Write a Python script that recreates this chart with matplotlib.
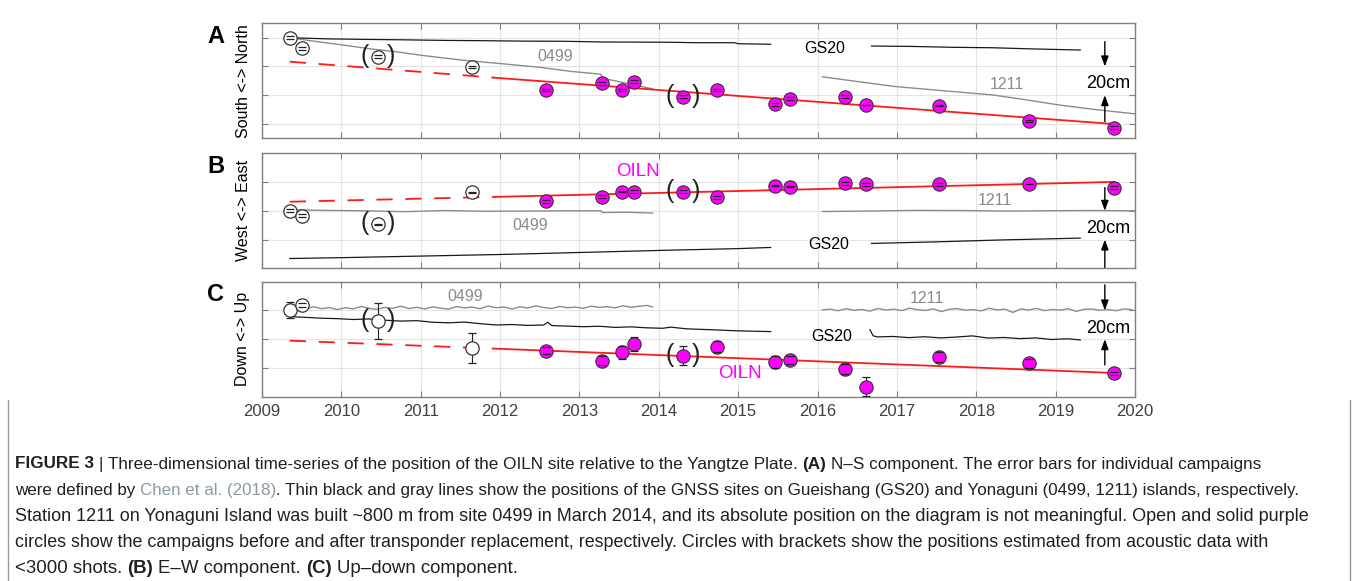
import matplotlib
matplotlib.use("Agg")
import matplotlib.pyplot as plt
from matplotlib import font_manager

plt.rcParams['font.family'] = ['Liberation Sans', 'DejaVu Sans']

W, H = 1354, 581

# ---- data (cm, one grid step = 20 cm) ----
year_ticks = list(range(2009, 2021))
open_t = [2009.35, 2009.50, 2010.46, 2011.64]
solid_t = [2012.58, 2013.28, 2013.54, 2013.69, 2014.30, 2014.73, 2015.47,
           2015.65, 2016.35, 2016.61, 2017.53, 2018.66, 2019.74]
bracket_t = [2010.46, 2014.30]

# A: N-S
a_open_v = [0.0, -7.4, -13.2, -20.4]
a_open_e = [1.0, 1.0, 1.0, 1.0]
a_solid_v = [-36.4, -31.8, -36.4, -30.6, -41.0, -36.4, -46.4, -42.6, -41.0, -46.8, -47.2, -58.0, -62.6]
a_solid_e = [1.0, 1.0, 1.0, 1.0, 1.0, 1.0, 1.0, 1.0, 1.0, 0.3, 0.3, 1.0, 1.0]
a_trend_t = [2009.35, 2011.92, 2019.74]
a_trend_v = [-16.7, -27.8, -60.1]
a_gs20_t1 = [2009.35, 2009.8, 2010.3, 2010.8, 2011.3, 2011.8, 2012.3, 2012.8, 2013.3, 2013.8, 2014.13, 2014.5, 2014.95, 2015.0, 2015.41]
a_gs20_v1 = [0.0, -0.8, -1.2, -1.5, -1.9, -2.1, -2.4, -2.5, -3.0, -3.1, -3.2, -3.5, -3.5, -4.2, -4.6]
a_gs20_t2 = [2016.68, 2017.2, 2017.7, 2018.2, 2018.7, 2019.31]
a_gs20_v2 = [-5.8, -6.1, -6.7, -7.0, -7.8, -8.6]
a_0499_t = [2009.35, 2009.7, 2010.0, 2010.4, 2010.69, 2011.0, 2011.5, 2012.0, 2012.5, 2012.9, 2013.27, 2013.29, 2013.6, 2013.92]
a_0499_v = [0.0, -2.8, -5.0, -8.0, -9.8, -12.2, -15.5, -18.0, -20.6, -23.5, -25.4, -28.2, -31.8, -35.6]
a_1211_t = [2016.06, 2016.5, 2016.98, 2017.5, 2018.2, 2018.6, 2019.04, 2019.5, 2020.0]
a_1211_v = [-27.2, -30.5, -34.0, -36.5, -39.8, -43.0, -46.8, -50.0, -53.0]

# B: E-W
b_open_v = [0.0, -3.5, -9.3, 12.8]
b_open_e = [1.0, 1.0, 0.3, 0.3]
b_solid_v = [6.5, 9.7, 13.4, 13.4, 13.4, 9.3, 17.4, 16.7, 19.0, 18.6, 18.6, 18.6, 16.2]
b_solid_e = [1.0, 1.0, 0.3, 1.0, 1.0, 1.0, 0.3, 0.3, 1.0, 1.0, 1.0, 0.3, 1.0]
b_trend_t = [2009.35, 2011.95, 2019.74]
b_trend_v = [6.3, 9.7, 20.1]
b_gs20_t1 = [2009.35, 2010.0, 2011.0, 2012.0, 2013.0, 2014.13, 2015.0, 2015.41]
b_gs20_v1 = [-33.2, -32.6, -31.5, -30.4, -29.0, -27.4, -26.3, -25.5]
b_gs20_t2 = [2016.68, 2017.5, 2018.3, 2019.31]
b_gs20_v2 = [-22.7, -21.6, -20.3, -19.0]
b_0499_t = [2009.35, 2009.8, 2010.3, 2010.8, 2011.3, 2011.8, 2012.3, 2012.8, 2013.27, 2013.29, 2013.6, 2013.92]
b_0499_v = [0.7, 0.3, 0.0, -0.6, 0.2, -0.3, -0.2, 0.0, 0.0, -1.2, -1.0, -1.6]
b_1211_t = [2016.06, 2016.6, 2017.2, 2017.8, 2018.4, 2019.0, 2019.5, 2020.0]
b_1211_v = [-0.5, -0.2, 0.3, 0.2, -0.2, 0.1, 0.2, 0.0]

# C: up-down
c_open_v = [20.4, 23.9, 12.7, -6.3]
c_open_e = [5.8, 1.5, 12.5, 10.4]
c_solid_v = [-8.1, -14.9, -9.0, -3.5, -11.4, -5.1, -16.0, -14.4, -20.9, -33.0, -12.1, -16.7, -23.7]
c_solid_e = [2.5, 3.0, 4.5, 5.0, 6.4, 4.0, 4.0, 3.0, 3.5, 6.7, 3.5, 3.0, 1.0]
c_trend_t = [2009.35, 2012.0, 2019.74]
c_trend_v = [-1.0, -6.7, -23.5]
c_gs20_t1 = [2009.35, 2009.55, 2009.75, 2009.95, 2010.15, 2010.35, 2010.55, 2010.75, 2010.95,
             2011.15, 2011.35, 2011.55, 2011.75, 2011.95, 2012.15, 2012.35, 2012.55, 2012.6,
             2012.65, 2012.85, 2013.05, 2013.25, 2013.45, 2013.65, 2013.85, 2014.05, 2014.15,
             2014.35, 2014.55, 2014.75, 2014.95, 2015.15, 2015.41]
c_gs20_v1 = [15.7, 15.2, 14.6, 14.3, 13.7, 14.1, 13.2, 12.6, 12.9, 11.8, 11.4, 11.9, 10.8, 9.9,
             10.2, 9.6, 9.9, 11.8, 9.5, 9.1, 8.7, 9.0, 8.2, 8.6, 7.9, 7.6, 8.4, 7.2, 6.8, 6.4,
             5.9, 5.6, 5.3]
c_gs20_t2 = [2016.66, 2016.70, 2016.75, 2016.95, 2017.15, 2017.35, 2017.55, 2017.75,
             2017.95, 2018.15, 2018.35, 2018.55, 2018.75, 2018.95, 2019.15, 2019.31]
c_gs20_v2 = [6.6, 2.4, 1.6, 1.9, 1.1, 1.7, 0.9, 1.5, 2.3, 0.8, 1.2, 0.4, 0.9, -0.2, 0.3, -0.5]
c_0499_t = [2009.35, 2009.45, 2009.55, 2009.65, 2009.75, 2009.85, 2009.95, 2010.05, 2010.15,
            2010.25, 2010.35, 2010.45, 2010.55, 2010.65, 2010.75, 2010.85, 2010.95, 2011.05,
            2011.15, 2011.25, 2011.35, 2011.45, 2011.55, 2011.65, 2011.75, 2011.85, 2011.95,
            2012.05, 2012.15, 2012.25, 2012.35, 2012.45, 2012.55, 2012.65, 2012.75, 2012.85,
            2012.95, 2013.05, 2013.15, 2013.25, 2013.35, 2013.45, 2013.55, 2013.65, 2013.75,
            2013.85, 2013.92]
c_0499_v = [20.4, 21.8, 20.9, 22.6, 21.2, 22.0, 20.6, 21.9, 21.1, 22.8, 21.4, 20.8, 22.1, 21.5,
            23.0, 21.3, 22.2, 21.0, 22.5, 21.6, 20.9, 22.7, 21.8, 22.3, 21.2, 23.1, 21.9, 22.4,
            21.0, 22.6, 21.7, 23.2, 22.0, 21.4, 22.8, 21.9, 22.3, 21.5, 23.0, 22.1, 22.6, 21.8,
            23.3, 22.2, 22.9, 23.5, 22.4]
c_1211_t = [2016.06, 2016.16, 2016.26, 2016.36, 2016.46, 2016.56, 2016.66, 2016.76, 2016.86,
            2016.96, 2017.06, 2017.16, 2017.26, 2017.36, 2017.46, 2017.56, 2017.66, 2017.76,
            2017.86, 2017.96, 2018.06, 2018.16, 2018.26, 2018.36, 2018.46, 2018.56, 2018.66,
            2018.76, 2018.86, 2018.96, 2019.06, 2019.16, 2019.26, 2019.36, 2019.46, 2019.56,
            2019.66, 2019.76, 2019.86, 2019.96]
c_1211_v = [20.4, 20.9, 19.8, 21.2, 20.1, 20.7, 19.5, 21.4, 20.3, 20.9, 19.9, 21.6, 20.5, 20.0,
            21.1, 19.2, 20.8, 21.3, 20.2, 20.6, 19.7, 21.5, 20.4, 20.9, 18.6, 21.0, 20.3, 21.4,
            19.9, 20.7, 20.2, 21.2, 19.4, 20.8, 21.0, 20.1, 20.6, 19.8, 21.1, 20.6]

caption = [
    [("FIGURE 3", 'b'), (" |", 'n'), (" Three-dimensional time-series of the position of the OILN site relative to the Yangtze Plate.", 'n'),
     (" (A)", 'b'), (" N\u2013S component. The error bars for individual campaigns", 'n')],
    [("were defined by", 'n'), (" Chen et al. (2018)", 'l'),
     (". Thin black and gray lines show the positions of the GNSS sites on Gueishang (GS20) and Yonaguni (0499, 1211) islands, respectively.", 'n')],
    [("Station 1211 on Yonaguni Island was built ~800 m from site 0499 in March 2014, and its absolute position on the diagram is not meaningful. Open and solid purple", 'n')],
    [("circles show the campaigns before and after transponder replacement, respectively. Circles with brackets show the positions estimated from acoustic data with", 'n')],
    [("<3000 shots.", 'n'), (" (B)", 'b'), (" E\u2013W component.", 'n'), (" (C)", 'b'), (" Up\u2013down component.", 'n')],
]
caption_right = [1265, 1305, 1310, 1275, 522]

# ---- figure ----
fig = plt.figure(figsize=(W / 100, H / 100), dpi=100, facecolor='white')


def box(top, bottom, left=262, right=1135):
    return [left / W, 1 - bottom / H, (right - left) / W, (bottom - top) / H]


panels = [
    dict(box=box(23.3, 138.3), ylim=(-70, 10), yticks=[-60, -40, -20, 0],
         open_v=a_open_v, open_e=a_open_e, solid_v=a_solid_v, solid_e=a_solid_e,
         trend=(a_trend_t, a_trend_v),
         black=[(a_gs20_t1, a_gs20_v1), (a_gs20_t2, a_gs20_v2)],
         gray=[(a_0499_t, a_0499_v), (a_1211_t, a_1211_v)],
         labels=[("0499", 2012.69, -13.2, '#8a8a8a'), ("GS20", 2016.09, -7.4, 'k'), ("1211", 2018.38, -32.9, '#8a8a8a')],
         oiln=None, arrows=(-2.8, -20, -58.4, -40), cm_y=-32.2,
         letter="A", ylab="South <-> North", xlab=False),
    dict(box=box(153.3, 268.3), ylim=(-40, 40), yticks=[-20, 0, 20],
         open_v=b_open_v, open_e=b_open_e, solid_v=b_solid_v, solid_e=b_solid_e,
         trend=(b_trend_t, b_trend_v),
         black=[(b_gs20_t1, b_gs20_v1), (b_gs20_t2, b_gs20_v2)],
         gray=[(b_0499_t, b_0499_v), (b_1211_t, b_1211_v)],
         labels=[("0499", 2012.38, -10.4, '#8a8a8a'), ("GS20", 2016.14, -23.2, 'k'), ("1211", 2018.24, 7.0, '#8a8a8a')],
         oiln=(2013.74, 27.3), arrows=(16.2, 0, -39.4, -20), cm_y=-12.0,
         letter="B", ylab="West <-> East", xlab=False),
    dict(box=box(281.7, 396.7), ylim=(-40, 40), yticks=[-20, 0, 20],
         open_v=c_open_v, open_e=c_open_e, solid_v=c_solid_v, solid_e=c_solid_e,
         trend=(c_trend_t, c_trend_v),
         black=[(c_gs20_t1, c_gs20_v1), (c_gs20_t2, c_gs20_v2)],
         gray=[(c_0499_t, c_0499_v), (c_1211_t, c_1211_v)],
         labels=[("0499", 2011.56, 29.6, '#8a8a8a'), ("GS20", 2016.18, 1.8, 'k'), ("1211", 2017.38, 28.0, '#8a8a8a')],
         oiln=(2015.02, -23.7), arrows=(37.8, 20, -17.9, 0), cm_y=7.7,
         letter="C", ylab="Down <-> Up", xlab=True),
]

for p in panels:
    ax = fig.add_axes(p['box'])
    ax.set_xlim(2009, 2020)
    ax.set_ylim(*p['ylim'])
    ax.set_xticks(year_ticks)
    ax.set_yticks(p['yticks'])
    ax.grid(True, color='#e4e4e4', lw=0.8, zorder=0)
    ax.set_axisbelow(True)
    for s in ax.spines.values():
        s.set_color('#808080')
        s.set_linewidth(1.0)
    ax.tick_params(direction='in', top=True, right=True, length=4, color='#808080',
                   labelleft=False, labelbottom=p['xlab'], labelsize=12,
                   labelcolor='#404040', pad=5)

    for t, v in p['gray']:
        ax.plot(t, v, color='#8c8c8c', lw=1.0, zorder=2)
    for t, v in p['black']:
        ax.plot(t, v, color='#1a1a1a', lw=0.9, zorder=2)

    tt, tv = p['trend']
    ax.plot(tt[:2], tv[:2], color='#ff1a1a', lw=1.3, dashes=(9, 7), zorder=3)
    ax.plot(tt[1:], tv[1:], color='#ff1a1a', lw=1.3, zorder=3)

    ax.plot(open_t, p['open_v'], 'o', ms=9.6, mfc='white', mec='#333333', mew=0.9, zorder=4)
    ax.plot(solid_t, p['solid_v'], 'o', ms=9.6, mfc='#ff00ff', mec='#333333', mew=0.8, zorder=4)
    for tt_, vv, ee in ((open_t, p['open_v'], p['open_e']), (solid_t, p['solid_v'], p['solid_e'])):
        _, caps, bars = ax.errorbar(tt_, vv, yerr=ee, fmt='none', ecolor='#222222',
                                    elinewidth=0.8, capsize=2.6, capthick=0.9)
        for c in caps:
            c.set_zorder(5)
        for bl in bars:
            bl.set_zorder(3.5)

    all_t = open_t + solid_t
    all_v = p['open_v'] + p['solid_v']
    for bt in bracket_t:
        bv = all_v[all_t.index(bt)]
        ax.annotate("(", (bt, bv), xytext=(-9.5, 0.5), textcoords='offset points',
                    ha='center', va='center', fontsize=18, color='#222222', zorder=6)
        ax.annotate(")", (bt, bv), xytext=(9.5, 0.5), textcoords='offset points',
                    ha='center', va='center', fontsize=18, color='#222222', zorder=6)

    for txt, x, y, col in p['labels']:
        ax.text(x, y, txt, color=col, fontsize=11.5, ha='center', va='center', zorder=6)
    if p['oiln']:
        ax.text(p['oiln'][0], p['oiln'][1], "OILN", color='#ff00ff', fontsize=13.5,
                ha='center', va='center', zorder=6)

    d0, d1, u0, u1 = p['arrows']
    for tail, tip in ((d0, d1), (u0, u1)):
        ax.annotate('', xy=(2019.62, tip), xytext=(2019.62, tail),
                    arrowprops=dict(arrowstyle='-|>,head_width=0.22,head_length=0.6',
                                    color='k', lw=1.0, shrinkA=0, shrinkB=0),
                    annotation_clip=False, zorder=6)
    ax.text(2019.66, p['cm_y'], "20cm", fontsize=13, ha='center', va='center', zorder=6)

    # panel letter and axis label
    b = p['box']
    yc = b[1] + b[3] / 2
    fig.text(216 / W, b[1] + b[3] - (13 / H), p['letter'], fontsize=17, fontweight='bold',
             ha='center', va='center')
    fig.text(243 / W, yc, p['ylab'], fontsize=11.5, rotation=90, ha='center', va='center')

# ---- caption ----
names = {f.name for f in font_manager.fontManager.ttflist}
cap_font = 'Liberation Sans Narrow' if 'Liberation Sans Narrow' in names else 'Liberation Sans'
cap_colors = {'n': '#231f20', 'b': '#231f20', 'l': '#8d9aa6'}
renderer = fig.canvas.get_renderer()


def text_w(s, sz, weight):
    t = fig.text(0, 0, s, fontsize=sz, fontweight=weight, family=cap_font)
    w = t.get_window_extent(renderer).width
    t.remove()
    return w


def build_line(segs, x0, y0, sz):
    arts, x = [], x0
    sp = text_w("x x", sz, 'normal') - text_w("xx", sz, 'normal')
    for txt, style in segs:
        weight = 'bold' if style == 'b' else 'normal'
        if txt.startswith(' '):
            x += sp
            txt = txt[1:]
        t = fig.text(x / W, 1 - y0 / H, txt, fontsize=sz, fontweight=weight,
                     color=cap_colors[style], family=cap_font, ha='left', va='baseline')
        x += t.get_window_extent(renderer).width
        arts.append(t)
    return arts, x - x0


base = 12.5
for i, segs in enumerate(caption):
    y0 = 468.5 + i * 26.2
    arts, w = build_line(segs, 15, y0, base)
    for a in arts:
        a.remove()
    build_line(segs, 15, y0, base * (caption_right[i] - 15) / w)

# frame of the figure box
for xf in (8, 1350):
    fig.add_artist(plt.Line2D([xf / W, xf / W], [0, 1 - 400 / H], color='#9a9a9a', lw=1.0))

fig.savefig("out.png", dpi=100, facecolor='white')
